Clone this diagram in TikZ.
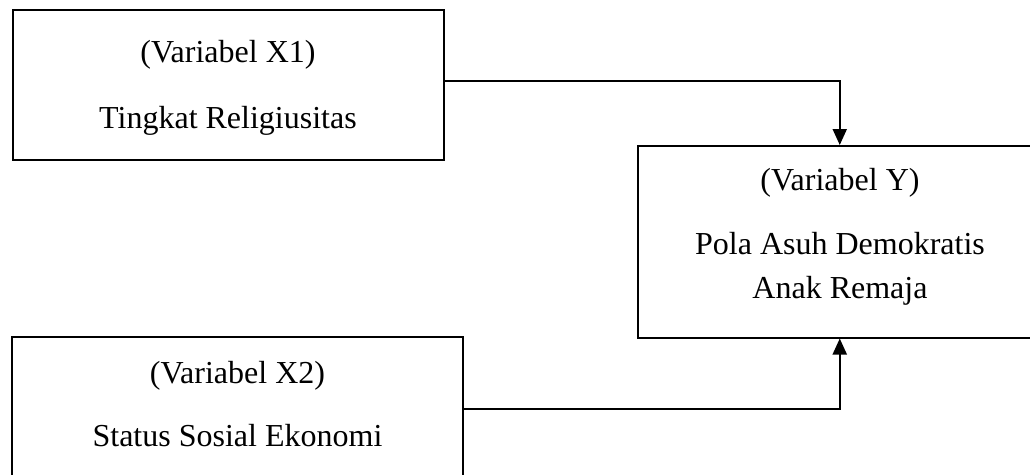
\documentclass[tikz,border=0pt]{standalone}
\usepackage{fontspec}
\setmainfont{Liberation Serif}
\usetikzlibrary{arrows.meta}
\begin{document}
\begin{tikzpicture}[x=1pt,y=-1pt,
  box/.style={draw,line width=2pt,rectangle,inner sep=0pt},
  lbl/.style={inner sep=0pt,anchor=base,font=\fontsize{32}{42}\selectfont},
  arr/.style={line width=2pt,-{Triangle[length=16pt,width=14pt]}}]
\useasboundingbox (0,0) rectangle (1030,474);
\clip (0,0) rectangle (1030,474);
% boxes
\node[box,minimum width=431.5pt,minimum height=150pt] (x1) at (228.25,85) {};
\node[box,minimum width=404.5pt,minimum height=191.5pt] (y) at (839.75,241.75) {};
\node[box,minimum width=451pt,minimum height=144pt] (x2) at (237.5,409) {};
% labels
\node[lbl] (x1a) at (228,62) {(Variabel X1)};
\node[lbl] (x1b) at (228,128) {Tingkat Religiusitas};
\node[lbl] (ya) at (840,190) {(Variabel Y)};
\node[lbl] (yb) at (840,254) {Pola Asuh Demokratis};
\node[lbl] (yc) at (840,298) {Anak Remaja};
\node[lbl] (x2a) at (237.5,383) {(Variabel X2)};
\node[lbl] (x2b) at (237.5,446) {Status Sosial Ekonomi};
% connectors
\draw[arr] ([yshift=4pt]x1.east) -| (y.north);
\draw[arr] (x2.east) -| (y.south);
\end{tikzpicture}
\end{document}
